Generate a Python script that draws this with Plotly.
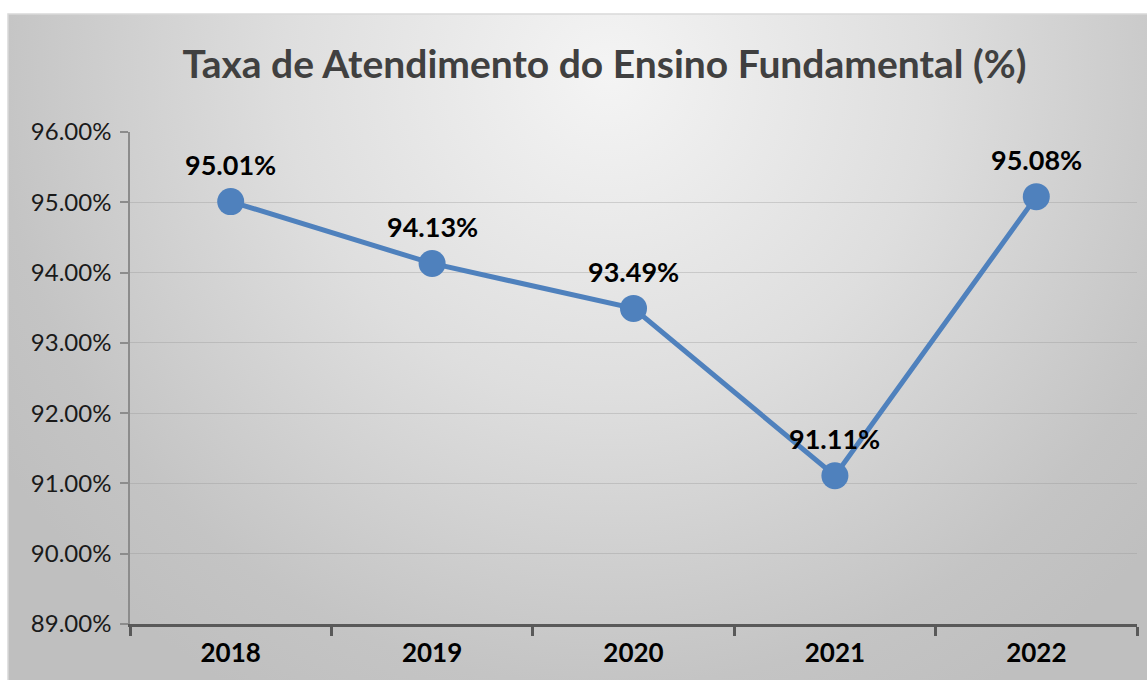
import base64
import plotly.graph_objects as go

# Série: taxa de atendimento do ensino fundamental por ano
anos = ["2018", "2019", "2020", "2021", "2022"]
taxas = [95.01, 94.13, 93.49, 91.11, 95.08]
ticks_y = [89, 90, 91, 92, 93, 94, 95, 96]
titulo = "Taxa de Atendimento do Ensino Fundamental (%)"

W, H = 1147, 680
L, R, T, B = 130, 10, 132, 56
pw, ph = W - L - R, H - T - B

# caixa do gráfico (px da página) -> coordenadas "paper"
bx0, by0, bx1, by1 = 8, 14, 1147, 680
px = lambda x: (x - L) / pw
py = lambda y: (H - B - y) / ph

# fundo com gradiente radial (claro no alto, cinza nas bordas)
bw, bh = bx1 - bx0, by1 - by0
svg = f"""<svg xmlns='http://www.w3.org/2000/svg' width='{bw}' height='{bh}' viewBox='0 0 {bw} {bh}' preserveAspectRatio='none'>
<defs><radialGradient id='g' gradientUnits='userSpaceOnUse' cx='600' cy='60' r='720'>
<stop offset='0' stop-color='#f4f4f4'/>
<stop offset='0.45' stop-color='#dedede'/>
<stop offset='0.85' stop-color='#c4c4c4'/>
<stop offset='1' stop-color='#bfbfbf'/>
</radialGradient></defs>
<rect width='{bw}' height='{bh}' fill='url(#g)'/></svg>"""
bg_src = "data:image/svg+xml;base64," + base64.b64encode(svg.encode()).decode()

fig = go.Figure()
fig.add_trace(go.Scatter(
    x=anos, y=taxas, mode="lines+markers",
    line=dict(color="#4F81BD", width=5),
    marker=dict(size=27, color="#4F81BD"),
    hoverinfo="skip", showlegend=False,
))

# rótulos de valor acima de cada ponto (x pelo índice da categoria)
for i, v in enumerate(taxas):
    fig.add_annotation(
        x=i, y=v, xref="x", yref="y", text=f"{v:.2f}%", showarrow=False, yshift=37,
        font=dict(family="Lato", size=27, color="#000000", weight="bold"),
    )

fig.update_layout(
    width=W, height=H,
    margin=dict(l=L, r=R, t=T, b=B),
    paper_bgcolor="white",
    plot_bgcolor="rgba(0,0,0,0)",
    images=[dict(
        source=bg_src, xref="paper", yref="paper",
        x=px(bx0), y=py(by0), sizex=px(bx1) - px(bx0), sizey=py(by0) - py(by1),
        xanchor="left", yanchor="top", sizing="stretch", layer="below",
    )],
    shapes=[dict(
        type="rect", xref="paper", yref="paper",
        x0=px(bx0), x1=px(bx1) + 0.01, y0=py(by1) - 0.01, y1=py(by0),
        line=dict(color="#d9d9d9", width=1.5), fillcolor="rgba(0,0,0,0)", layer="below",
    )],
    title=dict(
        text=titulo, x=0.527, xanchor="center", y=1 - 64 / H, yanchor="middle",
        font=dict(family="Lato", size=39, color="#404040", weight="bold"),
    ),
    xaxis=dict(
        type="category", range=[-0.5, 4.5],
        showgrid=False, showline=True, linecolor="#595959", linewidth=3,
        ticks="outside", tickson="boundaries", ticklen=9, tickwidth=3, tickcolor="#595959",
        tickfont=dict(family="Lato", size=26, color="#000000", weight="bold"),
        ticklabelstandoff=4,
        zeroline=False,
    ),
    yaxis=dict(
        range=[89, 96], tickmode="array", tickvals=ticks_y,
        ticktext=[f"{t:.2f}%" for t in ticks_y],
        showgrid=True, gridcolor="rgba(150,150,150,0.35)", gridwidth=1,
        showline=True, linecolor="#8c8c8c", linewidth=1.5,
        ticks="outside", ticklen=8, tickcolor="#8c8c8c", tickwidth=1.5,
        tickfont=dict(family="Lato", size=24, color="#1a1a1a"),
        ticklabelstandoff=4,
        zeroline=False,
    ),
)

fig.write_html("out.html")
